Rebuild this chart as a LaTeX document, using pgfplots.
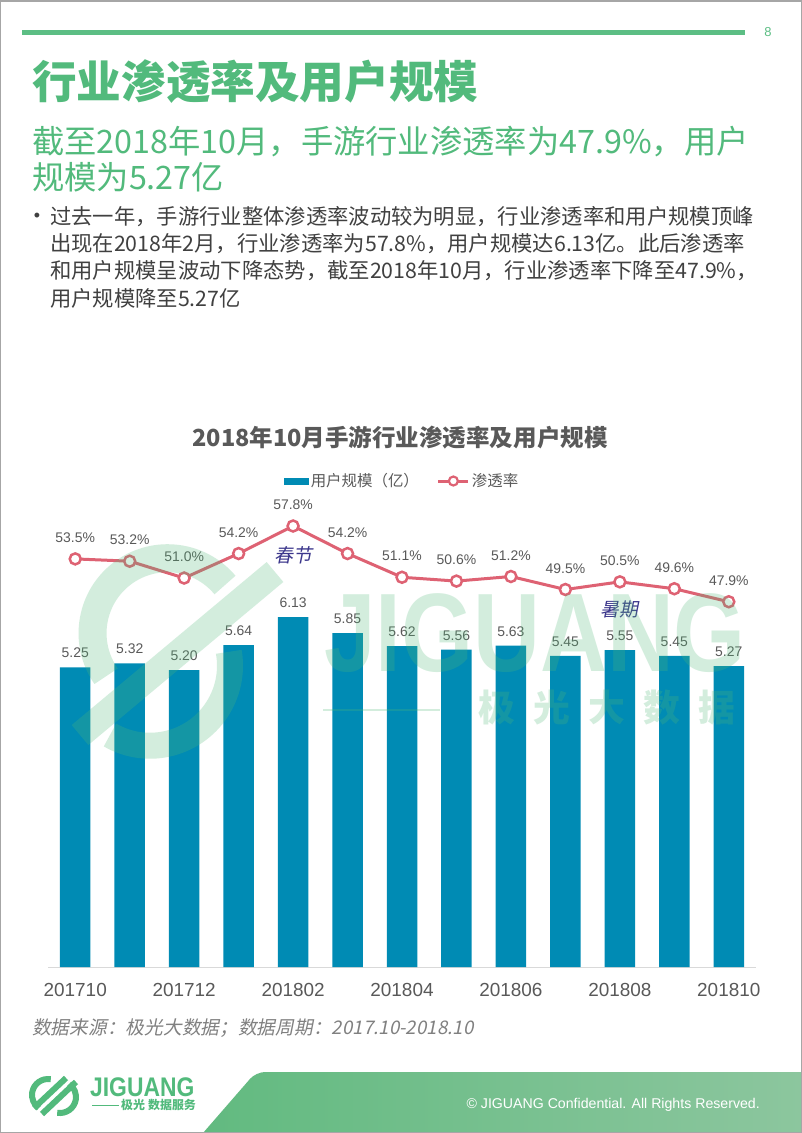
\documentclass[border=0pt]{standalone}
\usepackage{pgfplots}
\pgfplotsset{compat=1.18}
\usepackage{fontspec}
\setmainfont{Noto Sans CJK SC}
\newfontfamily\lib{Liberation Sans}
\newfontfamily\cjkit{Noto Sans CJK SC}[FakeSlant=0.2]
\newcommand\fs[1]{\fontsize{#1}{#1}\selectfont}
\definecolor{tgreen}{RGB}{82,186,124}
\definecolor{hgreen}{RGB}{92,190,132}
\definecolor{barcol}{RGB}{0,139,180}
\definecolor{linecol}{RGB}{222,98,115}
\definecolor{gray59}{RGB}{89,89,89}
\definecolor{body}{RGB}{64,64,64}
\definecolor{srcgray}{RGB}{128,128,128}
\definecolor{annot}{RGB}{60,55,140}
\definecolor{axgray}{RGB}{217,217,217}
\definecolor{wm}{RGB}{80,185,120}
\definecolor{footL}{RGB}{98,186,128}
\definecolor{footR}{RGB}{140,198,158}
\begin{document}
\begin{tikzpicture}
\begin{scope}[x=1bp,y=-1bp]
\path[use as bounding box] (0,0) rectangle (802,1133);
\fill[white] (0,0) rectangle (802,1133);
% header
\draw[hgreen, line width=5bp] (22,32) -- (745,32);
\node[text=hgreen, font=\lib\fs{13}, inner sep=0] at (768,32) {8};
\node[anchor=west, text=tgreen, font=\fs{44.8}\bfseries, inner sep=0] at (32,82) {行业渗透率及用户规模};
\node[anchor=west, text=tgreen, font=\fs{32.4}, inner sep=0] at (32,142) {截至2018年10月，手游行业渗透率为47.9\%，用户};
\node[anchor=west, text=tgreen, font=\fs{32.4}, inner sep=0] at (32,177) {规模为5.27亿};
% bullet text
\node[text=body, font=\lib\fs{18}, inner sep=0] at (37,217) {•};
\node[anchor=west, text=body, font=\fs{21.4}, inner sep=0] at (50,217) {过去一年，手游行业整体渗透率波动较为明显，行业渗透率和用户规模顶峰};
\node[anchor=west, text=body, font=\fs{21.4}, inner sep=0] at (50,244) {出现在2018年2月，行业渗透率为57.8\%，用户规模达6.13亿。此后渗透率};
\node[anchor=west, text=body, font=\fs{21.4}, inner sep=0] at (50,271) {和用户规模呈波动下降态势，截至2018年10月，行业渗透率下降至47.9\%，};
\node[anchor=west, text=body, font=\fs{21.4}, inner sep=0] at (50,298) {用户规模降至5.27亿};
% chart title
\node[text=gray59, font=\fs{23.6}\bfseries, inner sep=0] at (400,438) {2018年10月手游行业渗透率及用户规模};
% source
\node[anchor=west, text=srcgray, font=\cjkit\fs{18.8}, inner sep=0] at (32,1028) {数据来源：极光大数据；数据周期：2017.10-2018.10};
% footer band
\shade[left color=footL, right color=footR] (203,1133) [rounded corners=9bp]-- (256,1072) [sharp corners]-- (802,1072) -- (802,1133) -- cycle;
\node[anchor=east, text=white, font=\lib\fs{14.2}, inner sep=0] at (760,1105) {© JIGUANG Confidential. All Rights Reserved.};
% footer logo
\node[anchor=west, text=tgreen, font=\lib\fs{27}\bfseries, inner sep=0, xscale=0.85] at (90,1087) {JIGUANG};
\draw[tgreen, line width=0.8bp] (92,1105) -- (119,1105);
\node[anchor=west, text=tgreen, font=\fs{12}\bfseries, inner sep=0] at (121,1105) {极光\hspace{3bp}数据服务};
\begin{scope}[tgreen, line width=6bp]
\draw (48,1095) ++(-80:16) arc[start angle=-80, end angle=-235, radius=16];
\draw (60,1097) ++(-260:16) arc[start angle=-260, end angle=-415, radius=16];
\draw (34,1108) -- (66,1078);
\draw (42,1114) -- (76,1082);
\end{scope}
\draw[gray!70, line width=1.5bp] (0.75,0.75) rectangle (801.25,1132.25);
\end{scope}
% bars
\begin{axis}[at={(48bp,-967bp)}, anchor=south west, scale only axis,
  width=708bp, height=467bp, xmin=-0.5, xmax=12.5, ymin=0, ymax=8.18,
  axis y line=none, axis x line=bottom, x axis line style={-, draw=axgray, line width=1bp},
  xtick={0,2,4,6,8,10,12}, xticklabels={201710,201712,201802,201804,201806,201808,201810},
  xtick style={draw=none}, major tick length=0pt,
  xticklabel style={font=\lib\fs{19}, text=gray59, inner sep=0, anchor=north, yshift=-16bp},
  /pgf/number format/assume math mode=true, clip=false,
  legend columns=2, legend style={at={(0.5,1.0407)}, anchor=center, draw=none, fill=none,
     font=\fs{15.5}, text=gray59, /tikz/every even column/.style={column sep=16bp}},
  legend cell align=left]
\addplot[ybar, bar width=30.5bp, fill=barcol, draw=none,
  nodes near coords, point meta=y,
  nodes near coords style={font=\lib\fs{14}, text=gray59, inner sep=0, anchor=south, yshift=9bp,
     /pgf/number format/.cd, fixed, fixed zerofill, precision=2},
  legend image code/.code={\fill[barcol] (0bp,-3.5bp) rectangle (25bp,3.5bp);}]
 coordinates {(0,5.25) (1,5.32) (2,5.20) (3,5.64) (4,6.13) (5,5.85) (6,5.62) (7,5.56) (8,5.63) (9,5.45) (10,5.55) (11,5.45) (12,5.27)};
\addlegendentry{用户规模（亿）}
\addlegendimage{legend image code/.code={\draw[linecol, line width=3bp] (0bp,0bp) -- (30bp,0bp); \draw[linecol, line width=2.2bp, fill=white] (15bp,0bp) circle (4.5bp);}}
\addlegendentry{渗透率}
\end{axis}
% line
\begin{axis}[at={(48bp,-967bp)}, anchor=south west, scale only axis,
  width=708bp, height=467bp, xmin=-0.5, xmax=12.5, ymin=0.15, ymax=61.2,
  hide axis, clip=false, /pgf/number format/assume math mode=true]
\addplot[linecol, line width=3bp, mark=*, mark size=5.5bp,
  mark options={fill=white, draw=linecol, line width=2.5bp},
  nodes near coords={\pgfmathprintnumber[fixed,fixed zerofill,precision=1]{\pgfplotspointmeta}\%},
  point meta=y,
  nodes near coords style={font=\lib\fs{14}, text=gray59, inner sep=0, anchor=south, yshift=15bp}]
 coordinates {(0,53.5) (1,53.2) (2,51.0) (3,54.2) (4,57.8) (5,54.2) (6,51.1) (7,50.6) (8,51.2) (9,49.5) (10,50.5) (11,49.6) (12,47.9)};
\node[font=\cjkit\fs{19}, text=annot] at (axis cs:4,53.97) {春节};
\node[font=\cjkit\fs{19}, text=annot] at (axis cs:10,46.85) {暑期};
\end{axis}
% watermark
\begin{scope}[x=1bp,y=-1bp, opacity=0.25]
\node[text=wm, font=\lib\fs{112}\bfseries, inner sep=0, xscale=0.83] at (535,633) {JIGUANG};
\node[text=wm, font=\fs{37}\bfseries, inner sep=0] at (607,708) {极\hspace{18bp}光\hspace{18bp}大\hspace{18bp}数\hspace{18bp}据};
\draw[wm, line width=2bp] (323,710) -- (440,710);
\draw[wm, line width=28bp] (225,585) arc[start angle=-40, end angle=-215, radius=75];
\draw[wm, line width=26bp] (80,735) -- (275,572);
\draw[wm, line width=26bp] (110,735) arc[start angle=120, end angle=-10, radius=80];
\end{scope}
\end{tikzpicture}
\end{document}
